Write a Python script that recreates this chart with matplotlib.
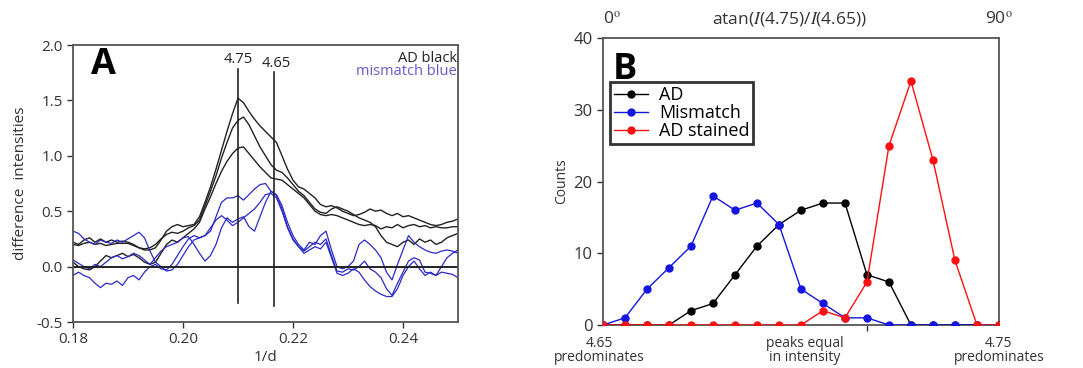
import numpy as np
import matplotlib
matplotlib.use("Agg")
import matplotlib.pyplot as plt

plt.rcParams['font.family'] = ['Open Sans', 'DejaVu Sans']
plt.rcParams['mathtext.fontset'] = 'stix'

# ---------------- Panel A data ----------------
x_inv_d = [round(0.180 + 0.001 * i, 3) for i in range(71)]

ad_1 = [0.22, 0.20, 0.24, 0.26, 0.22, 0.25, 0.22, 0.24, 0.22, 0.23,
        0.22, 0.20, 0.17, 0.15, 0.15, 0.17, 0.24, 0.32, 0.36, 0.38,
        0.36, 0.37, 0.38, 0.45, 0.58, 0.72, 0.88, 1.05, 1.22, 1.38,
        1.52, 1.48, 1.40, 1.33, 1.27, 1.22, 1.17, 1.12, 1.00, 0.88,
        0.78, 0.72, 0.70, 0.66, 0.62, 0.56, 0.54, 0.55, 0.53, 0.50,
        0.48, 0.46, 0.47, 0.49, 0.52, 0.50, 0.51, 0.48, 0.46, 0.48,
        0.45, 0.46, 0.44, 0.42, 0.40, 0.38, 0.37, 0.38, 0.40, 0.41,
        0.43]
ad_2 = [0.20, 0.19, 0.21, 0.22, 0.20, 0.21, 0.19, 0.20, 0.21, 0.21,
        0.21, 0.19, 0.17, 0.16, 0.17, 0.20, 0.25, 0.29, 0.31, 0.30,
        0.32, 0.35, 0.37, 0.42, 0.55, 0.68, 0.82, 0.98, 1.12, 1.25,
        1.32, 1.35, 1.28, 1.18, 1.08, 1.00, 0.92, 0.87, 0.85, 0.80,
        0.74, 0.68, 0.64, 0.58, 0.52, 0.49, 0.48, 0.52, 0.54, 0.52,
        0.50, 0.47, 0.44, 0.42, 0.40, 0.36, 0.28, 0.22, 0.20, 0.18,
        0.22, 0.24, 0.20, 0.25, 0.22, 0.24, 0.20, 0.22, 0.26, 0.28,
        0.30]
ad_3 = [0.04, 0.00, -0.02, -0.03, 0.00, 0.05, 0.10, 0.08, 0.10, 0.12,
        0.09, 0.11, 0.08, 0.04, 0.02, 0.04, 0.12, 0.20, 0.24, 0.22,
        0.26, 0.30, 0.34, 0.40, 0.52, 0.63, 0.75, 0.86, 0.95, 1.02,
        1.07, 1.08, 1.02, 0.96, 0.90, 0.85, 0.80, 0.79, 0.78, 0.74,
        0.70, 0.66, 0.62, 0.56, 0.50, 0.47, 0.46, 0.47, 0.46, 0.44,
        0.42, 0.40, 0.38, 0.37, 0.38, 0.37, 0.34, 0.36, 0.35, 0.38,
        0.35, 0.37, 0.38, 0.36, 0.37, 0.35, 0.36, 0.35, 0.35, 0.36,
        0.36]
mm_1 = [0.32, 0.30, 0.25, 0.22, 0.20, 0.24, 0.22, 0.21, 0.24, 0.22,
        0.25, 0.28, 0.31, 0.26, 0.14, 0.04, 0.00, -0.04, -0.03, 0.02,
        0.10, 0.18, 0.24, 0.26, 0.28, 0.32, 0.45, 0.58, 0.62, 0.62,
        0.64, 0.60, 0.65, 0.70, 0.74, 0.75, 0.68, 0.65, 0.55, 0.40,
        0.28, 0.20, 0.15, 0.22, 0.20, 0.28, 0.32, 0.15, 0.00, -0.02,
        0.00, 0.05, 0.20, 0.24, 0.20, 0.15, 0.08, -0.05, -0.12, 0.02,
        0.15, 0.28, 0.22, 0.18, 0.15, 0.13, 0.12, 0.14, 0.15, 0.14,
        0.12]
mm_2 = [0.06, 0.03, 0.00, -0.02, 0.02, 0.00, 0.04, 0.08, 0.10, 0.07,
        0.09, 0.12, 0.10, 0.06, 0.02, 0.08, 0.14, 0.18, 0.20, 0.22,
        0.26, 0.27, 0.20, 0.12, 0.05, 0.10, 0.20, 0.35, 0.44, 0.40,
        0.43, 0.45, 0.36, 0.32, 0.45, 0.58, 0.68, 0.64, 0.52, 0.36,
        0.25, 0.18, 0.14, 0.18, 0.22, 0.20, 0.25, 0.10, -0.04, -0.05,
        -0.02, -0.03, 0.00, 0.05, -0.02, -0.05, -0.10, -0.20, -0.26, -0.15,
        -0.05, 0.05, 0.08, 0.06, -0.05, -0.06, -0.08, -0.05, -0.06, -0.07,
        -0.10]
mm_3 = [-0.08, -0.05, -0.08, -0.10, -0.15, -0.19, -0.15, -0.16, -0.13, -0.17,
        -0.10, -0.08, -0.12, -0.05, 0.00, 0.02, -0.02, -0.03, 0.02, 0.10,
        0.18, 0.25, 0.28, 0.26, 0.28, 0.35, 0.42, 0.46, 0.42, 0.37,
        0.40, 0.44, 0.48, 0.52, 0.58, 0.65, 0.66, 0.62, 0.50, 0.35,
        0.24, 0.18, 0.12, 0.15, 0.18, 0.16, 0.22, 0.08, -0.06, -0.08,
        -0.06, -0.02, -0.05, -0.12, -0.18, -0.22, -0.25, -0.27, -0.27, -0.20,
        -0.08, 0.00, 0.05, -0.02, -0.08, -0.05, -0.08, 0.00, 0.08, 0.12,
        0.15]
peak_labels = ["4.75", "4.65"]
peak_pos = [0.2100, 0.2166]

# ---------------- Panel B data ----------------
angle_bins = list(range(0, 91, 5))
counts_ad = [0, 0, 0, 0, 2, 3, 7, 11, 14, 16, 17, 17, 7, 6, 0, 0, 0, 0, 0]
counts_mismatch = [0, 1, 5, 8, 11, 18, 16, 17, 14, 5, 3, 1, 1, 0, 0, 0, 0, 0, 0]
counts_ad_stained = [0, 0, 0, 0, 0, 0, 0, 0, 0, 0, 2, 1, 6, 25, 34, 23, 9, 0, 0]
series_labels = ["AD", "Mismatch", "AD stained"]

fig = plt.figure(figsize=(10.83, 3.68), dpi=100)

spine_col = '#555555'
tick_col = '#333333'

# ---------------- Panel A ----------------
axA = fig.add_axes([0.0674, 0.125, 0.3555, 0.7527])
for y in (ad_1, ad_2, ad_3):
    axA.plot(x_inv_d, y, color='#222222', lw=1.0)
for y in (mm_1, mm_2, mm_3):
    axA.plot(x_inv_d, y, color='#2a2ac8', lw=0.9)
axA.axhline(0, color='#222222', lw=1.4)
axA.plot([peak_pos[0]] * 2, [-0.33, 1.78], color='#222222', lw=1.2)
axA.plot([peak_pos[1]] * 2, [-0.36, 1.76], color='#222222', lw=1.2)
axA.text(peak_pos[0], 1.87, peak_labels[0], ha='center', va='center', fontsize=10.5, color='#222222')
axA.text(peak_pos[1] + 0.0003, 1.83, peak_labels[1], ha='center', va='center', fontsize=10.5, color='#222222')
axA.text(0.2498, 1.88, "AD black", ha='right', va='center', fontsize=10.5, color='#222222')
axA.text(0.2498, 1.76, "mismatch blue", ha='right', va='center', fontsize=10.5, color='#6a5acd')
axA.text(0.1833, 1.82, "A", ha='left', va='center', fontsize=26, fontweight='bold', color='black')
axA.set_xlim(0.18, 0.25)
axA.set_ylim(-0.5, 2.0)
axA.set_xticks([0.18, 0.20, 0.22, 0.24])
axA.set_xticklabels(["0.18", "0.20", "0.22", "0.24"])
axA.set_yticks([-0.5, 0.0, 0.5, 1.0, 1.5, 2.0])
axA.set_yticklabels(["-0.5", "0.0", "0.5", "1.0", "1.5", "2.0"])
axA.tick_params(labelsize=11, colors=tick_col, length=4, width=1, direction='out')
axA.set_xlabel("1/d", fontsize=11, color=tick_col, labelpad=2)
axA.set_ylabel("difference  intensities", fontsize=11, color=tick_col, labelpad=6)
for s in axA.spines.values():
    s.set_color(spine_col)
    s.set_linewidth(1.3)

# ---------------- Panel B ----------------
axB = fig.add_axes([0.5568, 0.1168, 0.3656, 0.7799])
lA, = axB.plot(angle_bins, counts_ad, color='black', lw=1.0, marker='o', ms=5, zorder=3)
lM, = axB.plot(angle_bins, counts_mismatch, color='#1515e0', lw=1.0, marker='o', ms=5, zorder=4)
lS, = axB.plot(angle_bins, counts_ad_stained, color='#ff1010', lw=1.0, marker='o', ms=5, zorder=5)
axB.set_xlim(0, 90)
axB.set_ylim(0, 40)
axB.set_yticks([0, 10, 20, 30, 40])
axB.set_xticks([60])
axB.set_xticklabels([""])
axB.tick_params(labelsize=12, colors=tick_col, length=4, width=1, direction='out')
axB.set_ylabel("Counts", fontsize=10, color=tick_col, labelpad=3)
for s in axB.spines.values():
    s.set_color(spine_col)
    s.set_linewidth(1.3)
leg = axB.legend([lA, lM, lS], series_labels, loc='upper left', bbox_to_anchor=(0.018, 0.845),
                 fontsize=13, frameon=True, fancybox=False, handlelength=1.9,
                 borderpad=0.2, labelspacing=0.0, handletextpad=0.6, borderaxespad=0.0)
leg.get_frame().set_edgecolor('black')
leg.get_frame().set_linewidth(2.0)
axB.text(2.2, 35.5, "B", ha='left', va='center', fontsize=26, fontweight='bold', color='black')

axB.text(0.0, 1.035, r"0$^{\rm o}$", transform=axB.transAxes, ha='left', va='bottom', fontsize=12.5, color=tick_col)
axB.text(0.47, 1.035, r"atan($I$(4.75)/$I$(4.65))", transform=axB.transAxes, ha='center', va='bottom', fontsize=12.5, color=tick_col)
axB.text(1.0, 1.035, r"90$^{\rm o}$", transform=axB.transAxes, ha='center', va='bottom', fontsize=12.5, color=tick_col)
axB.text(-0.01, -0.04, "4.65\npredominates", transform=axB.transAxes, ha='center', va='top', fontsize=10,
         color=tick_col, linespacing=0.9)
axB.text(0.51, -0.04, "peaks equal\nin intensity", transform=axB.transAxes, ha='center', va='top', fontsize=10,
         color=tick_col, linespacing=0.9)
axB.text(1.0, -0.04, "4.75\npredominates", transform=axB.transAxes, ha='center', va='top', fontsize=10,
         color=tick_col, linespacing=0.9)

fig.savefig("out.png", dpi=100)
